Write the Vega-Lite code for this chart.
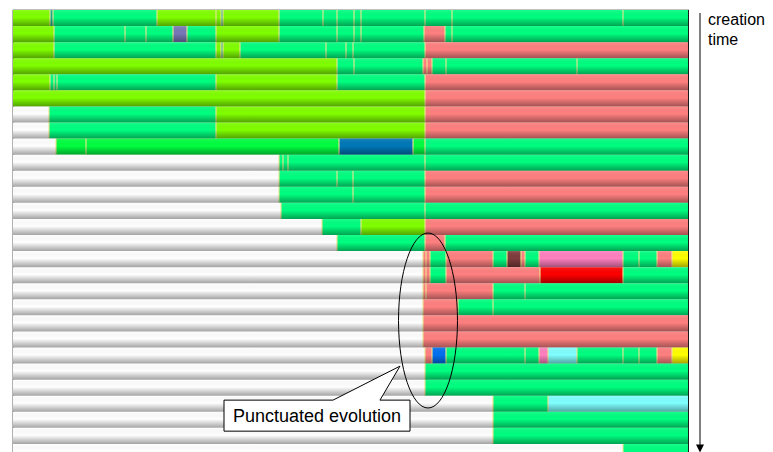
{
  "$schema": "https://vega.github.io/schema/vega-lite/v6.json",
  "width": 675,
  "height": 450,
  "padding": {"left": 13, "top": 9, "right": 0, "bottom": 0},
  "background": "white",
  "view": {"stroke": "black", "strokeWidth": 1.2},
  "config": {"font": "Liberation Sans"},
  "resolve": {"scale": {"y": "independent"}},
  "layer": [
    {
      "data": {"values": [
        {"row":0,"start":0,"end":37,"type":"A"},{"row":0,"start":37,"end":40,"type":"T"},{"row":0,"start":40,"end":144,"type":"B"},{"row":0,"start":144,"end":203,"type":"A"},{"row":0,"start":203,"end":208,"type":"A"},{"row":0,"start":208,"end":210,"type":"T"},{"row":0,"start":210,"end":266,"type":"A"},{"row":0,"start":266,"end":310,"type":"B"},{"row":0,"start":310,"end":324,"type":"B"},{"row":0,"start":324,"end":341,"type":"B"},{"row":0,"start":341,"end":348,"type":"B"},{"row":0,"start":348,"end":412,"type":"B"},{"row":0,"start":412,"end":439,"type":"B"},{"row":0,"start":439,"end":610,"type":"B"},{"row":0,"start":610,"end":675,"type":"B"},
        {"row":1,"start":0,"end":41,"type":"A"},{"row":1,"start":41,"end":112,"type":"B"},{"row":1,"start":112,"end":133,"type":"B"},{"row":1,"start":133,"end":160,"type":"B"},{"row":1,"start":160,"end":174,"type":"P"},{"row":1,"start":174,"end":203,"type":"B"},{"row":1,"start":203,"end":266,"type":"A"},{"row":1,"start":266,"end":324,"type":"B"},{"row":1,"start":324,"end":341,"type":"B"},{"row":1,"start":341,"end":348,"type":"B"},{"row":1,"start":348,"end":411,"type":"B"},{"row":1,"start":411,"end":432,"type":"S"},{"row":1,"start":432,"end":439,"type":"B"},{"row":1,"start":439,"end":675,"type":"B"},
        {"row":2,"start":0,"end":41,"type":"A"},{"row":2,"start":41,"end":203,"type":"B"},{"row":2,"start":203,"end":208,"type":"A"},{"row":2,"start":208,"end":210,"type":"T"},{"row":2,"start":210,"end":227,"type":"A"},{"row":2,"start":227,"end":313,"type":"B"},{"row":2,"start":313,"end":333,"type":"B"},{"row":2,"start":333,"end":340,"type":"B"},{"row":2,"start":340,"end":412,"type":"B"},{"row":2,"start":412,"end":675,"type":"S"},
        {"row":3,"start":0,"end":324,"type":"A"},{"row":3,"start":324,"end":341,"type":"B"},{"row":3,"start":341,"end":410,"type":"B"},{"row":3,"start":410,"end":414,"type":"S"},{"row":3,"start":414,"end":419,"type":"S"},{"row":3,"start":419,"end":433,"type":"B"},{"row":3,"start":433,"end":564,"type":"B"},{"row":3,"start":564,"end":675,"type":"B"},
        {"row":4,"start":0,"end":37,"type":"A"},{"row":4,"start":37,"end":41,"type":"B"},{"row":4,"start":41,"end":44,"type":"B"},{"row":4,"start":44,"end":203,"type":"B"},{"row":4,"start":203,"end":324,"type":"A"},{"row":4,"start":324,"end":412,"type":"B"},{"row":4,"start":412,"end":675,"type":"S"},
        {"row":5,"start":0,"end":412,"type":"A"},{"row":5,"start":412,"end":675,"type":"S"},
        {"row":6,"start":0,"end":36,"type":"W"},{"row":6,"start":36,"end":203,"type":"B"},{"row":6,"start":203,"end":412,"type":"A"},{"row":6,"start":412,"end":675,"type":"S"},
        {"row":7,"start":0,"end":36,"type":"W"},{"row":7,"start":36,"end":203,"type":"B"},{"row":7,"start":203,"end":412,"type":"A"},{"row":7,"start":412,"end":675,"type":"S"},
        {"row":8,"start":0,"end":43,"type":"W"},{"row":8,"start":43,"end":73,"type":"C"},{"row":8,"start":73,"end":326,"type":"C"},{"row":8,"start":326,"end":400,"type":"U"},{"row":8,"start":400,"end":412,"type":"C"},{"row":8,"start":412,"end":675,"type":"B"},
        {"row":9,"start":0,"end":266,"type":"W"},{"row":9,"start":266,"end":270,"type":"B"},{"row":9,"start":270,"end":275,"type":"B"},{"row":9,"start":275,"end":412,"type":"B"},{"row":9,"start":412,"end":675,"type":"B"},
        {"row":10,"start":0,"end":266,"type":"W"},{"row":10,"start":266,"end":324,"type":"B"},{"row":10,"start":324,"end":340,"type":"B"},{"row":10,"start":340,"end":412,"type":"B"},{"row":10,"start":412,"end":675,"type":"S"},
        {"row":11,"start":0,"end":266,"type":"W"},{"row":11,"start":266,"end":340,"type":"B"},{"row":11,"start":340,"end":412,"type":"B"},{"row":11,"start":412,"end":675,"type":"S"},
        {"row":12,"start":0,"end":268,"type":"W"},{"row":12,"start":268,"end":412,"type":"B"},{"row":12,"start":412,"end":675,"type":"B"},
        {"row":13,"start":0,"end":309,"type":"W"},{"row":13,"start":309,"end":348,"type":"B"},{"row":13,"start":348,"end":412,"type":"A"},{"row":13,"start":412,"end":675,"type":"S"},
        {"row":14,"start":0,"end":324,"type":"W"},{"row":14,"start":324,"end":412,"type":"B"},{"row":14,"start":412,"end":432,"type":"S"},{"row":14,"start":432,"end":675,"type":"B"},
        {"row":15,"start":0,"end":410,"type":"W"},{"row":15,"start":410,"end":413,"type":"S"},{"row":15,"start":413,"end":417,"type":"S"},{"row":15,"start":417,"end":433,"type":"B"},{"row":15,"start":433,"end":480,"type":"S"},{"row":15,"start":480,"end":494,"type":"B"},{"row":15,"start":494,"end":508,"type":"M"},{"row":15,"start":508,"end":512,"type":"S"},{"row":15,"start":512,"end":526,"type":"B"},{"row":15,"start":526,"end":610,"type":"K"},{"row":15,"start":610,"end":626,"type":"B"},{"row":15,"start":626,"end":644,"type":"B"},{"row":15,"start":644,"end":659,"type":"S"},{"row":15,"start":659,"end":675,"type":"Y"},
        {"row":16,"start":0,"end":410,"type":"W"},{"row":16,"start":410,"end":413,"type":"S"},{"row":16,"start":413,"end":417,"type":"S"},{"row":16,"start":417,"end":433,"type":"B"},{"row":16,"start":433,"end":527,"type":"S"},{"row":16,"start":527,"end":610,"type":"R"},{"row":16,"start":610,"end":675,"type":"B"},
        {"row":17,"start":0,"end":410,"type":"W"},{"row":17,"start":410,"end":413,"type":"S"},{"row":17,"start":413,"end":480,"type":"S"},{"row":17,"start":480,"end":512,"type":"B"},{"row":17,"start":512,"end":675,"type":"B"},
        {"row":18,"start":0,"end":410,"type":"W"},{"row":18,"start":410,"end":445,"type":"S"},{"row":18,"start":445,"end":480,"type":"B"},{"row":18,"start":480,"end":675,"type":"B"},
        {"row":19,"start":0,"end":410,"type":"W"},{"row":19,"start":410,"end":675,"type":"S"},
        {"row":20,"start":0,"end":410,"type":"W"},{"row":20,"start":410,"end":675,"type":"S"},
        {"row":21,"start":0,"end":412,"type":"W"},{"row":21,"start":412,"end":419,"type":"S"},{"row":21,"start":419,"end":433,"type":"V"},{"row":21,"start":433,"end":512,"type":"B"},{"row":21,"start":512,"end":526,"type":"B"},{"row":21,"start":526,"end":535,"type":"K"},{"row":21,"start":535,"end":564,"type":"N"},{"row":21,"start":564,"end":610,"type":"B"},{"row":21,"start":610,"end":626,"type":"B"},{"row":21,"start":626,"end":644,"type":"B"},{"row":21,"start":644,"end":659,"type":"S"},{"row":21,"start":659,"end":675,"type":"Y"},
        {"row":22,"start":0,"end":412,"type":"W"},{"row":22,"start":412,"end":675,"type":"B"},
        {"row":23,"start":0,"end":412,"type":"W"},{"row":23,"start":412,"end":675,"type":"B"},
        {"row":24,"start":0,"end":480,"type":"W"},{"row":24,"start":480,"end":535,"type":"B"},{"row":24,"start":535,"end":675,"type":"N"},
        {"row":25,"start":0,"end":480,"type":"W"},{"row":25,"start":480,"end":675,"type":"B"},
        {"row":26,"start":0,"end":480,"type":"W"},{"row":26,"start":480,"end":675,"type":"B"},
        {"row":27,"start":0,"end":610,"type":"W"},{"row":27,"start":610,"end":675,"type":"B"}
      ]},
      "encoding": {
        "x": {"field": "start", "type": "quantitative", "axis": null, "scale": {"domain": [0, 675], "nice": false, "zero": false}},
        "y": {"field": "row", "type": "ordinal", "axis": null, "scale": {"domain": [0,1,2,3,4,5,6,7,8,9,10,11,12,13,14,15,16,17,18,19,20,21,22,23,24,25,26,27], "paddingInner": 0, "paddingOuter": 0}}
      },
      "layer": [
        {
          "mark": {"type": "rect"},
          "encoding": {
            "x2": {"field": "end"},
            "color": {"field": "type", "type": "nominal", "legend": null,
              "scale": {"domain": ["A","B","C","S","W","T","P","U","V","M","K","R","Y","N"],
                        "range": ["#80ff00","#00ff80","#00ff40","#ff8080","#ffffff","#10b090","#7878b8","#0078b8","#0070f0","#803c3c","#ff80c0","#ff0000","#ffff00","#80ffff"]}}
          }
        },
        {
          "transform": [{"filter": "datum.start > 0 && datum.type != 'W'"}],
          "mark": {"type": "tick", "color": "#f0e890", "thickness": 1.5, "size": 16, "opacity": 0.75}
        },
        {
          "mark": {"type": "rect", "fill": {"gradient": "linear", "x1": 0, "y1": 0, "x2": 0, "y2": 1,
            "stops": [{"offset": 0, "color": "rgba(255,255,255,0.1)"}, {"offset": 0.45, "color": "rgba(0,0,0,0)"}, {"offset": 1, "color": "rgba(0,0,0,0.36)"}]}},
          "encoding": {"x2": {"field": "end"}}
        }
      ]
    },
    {
      "data": {"values": [{"label": "Punctuated evolution", "axis": "creation time"}]},
      "layer": [
        {
          "mark": {"type": "point", "shape": "M 0,-1 C 0.186,-1 0.337,-0.5523 0.337,0 C 0.337,0.5523 0.186,1 0,1 C -0.186,1 -0.337,0.5523 -0.337,0 C -0.337,-0.5523 -0.186,-1 0,-1 Z", "size": 30625, "filled": false, "stroke": "black", "strokeWidth": 1, "opacity": 1},
          "encoding": {
            "x": {"datum": 415, "type": "quantitative", "axis": null, "scale": {"domain": [0, 675], "nice": false, "zero": false}},
            "y": {"datum": 19.32, "type": "quantitative", "axis": null, "scale": {"domain": [0, 28], "reverse": true, "nice": false, "zero": false}}
          }
        },
        {
          "mark": {"type": "point", "shape": "M -1,-0.1667 L 0.172,-0.1667 L 0.892,-0.532 L 0.677,-0.1667 L 1,-0.1667 L 1,0.1667 L -1,0.1667 Z", "size": 34596, "filled": true, "fill": "white", "stroke": "black", "strokeWidth": 1, "opacity": 1},
          "encoding": {
            "x": {"datum": 304, "type": "quantitative", "axis": null, "scale": {"domain": [0, 675], "nice": false, "zero": false}},
            "y": {"datum": 25.24, "type": "quantitative", "axis": null, "scale": {"domain": [0, 28], "reverse": true, "nice": false, "zero": false}}
          }
        },
        {
          "mark": {"type": "text", "fontSize": 18, "align": "center", "baseline": "alphabetic", "color": "black"},
          "encoding": {
            "x": {"datum": 304, "type": "quantitative", "axis": null, "scale": {"domain": [0, 675], "nice": false, "zero": false}},
            "y": {"datum": 25.64, "type": "quantitative", "axis": null, "scale": {"domain": [0, 28], "reverse": true, "nice": false, "zero": false}},
            "text": {"field": "label"}
          }
        },
        {
          "mark": {"type": "rule", "color": "#808080", "strokeWidth": 2},
          "encoding": {
            "x": {"datum": 687, "type": "quantitative", "axis": null, "scale": {"domain": [0, 675], "nice": false, "zero": false}},
            "y": {"datum": 0.187, "type": "quantitative", "axis": null, "scale": {"domain": [0, 28], "reverse": true, "nice": false, "zero": false}},
            "y2": {"datum": 27.13}
          }
        },
        {
          "mark": {"type": "point", "shape": "M -1,-1 L 1,-1 L 0,1 Z", "size": 64, "filled": true, "fill": "black", "stroke": null, "opacity": 1},
          "encoding": {
            "x": {"datum": 687, "type": "quantitative", "axis": null, "scale": {"domain": [0, 675], "nice": false, "zero": false}},
            "y": {"datum": 27.29, "type": "quantitative", "axis": null, "scale": {"domain": [0, 28], "reverse": true, "nice": false, "zero": false}}
          }
        },
        {
          "mark": {"type": "text", "fontSize": 16, "align": "left", "baseline": "alphabetic", "color": "black", "lineHeight": 19.5},
          "encoding": {
            "x": {"datum": 695, "type": "quantitative", "axis": null, "scale": {"domain": [0, 675], "nice": false, "zero": false}},
            "y": {"datum": 0.964, "type": "quantitative", "axis": null, "scale": {"domain": [0, 28], "reverse": true, "nice": false, "zero": false}},
            "text": {"value": ["creation", "time"]}
          }
        }
      ]
    }
  ]
}
